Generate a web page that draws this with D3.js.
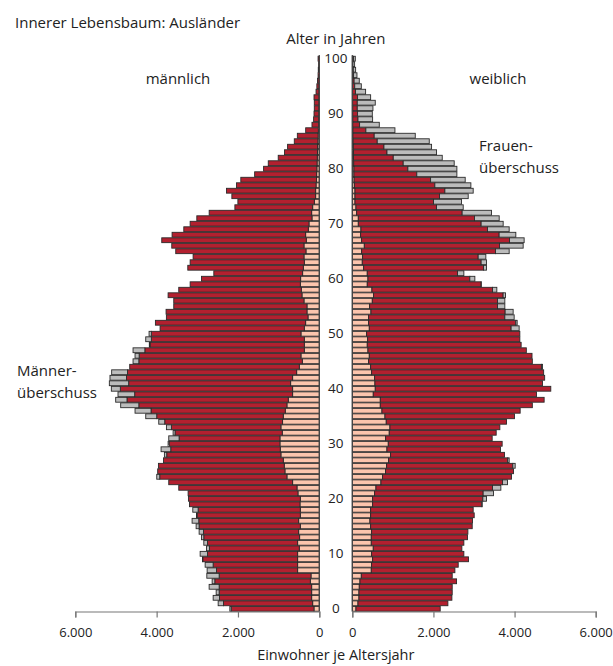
<!DOCTYPE html>
<html>
<head>
<meta charset="utf-8">
<script src="https://cdn.jsdelivr.net/npm/d3@7"></script>
<style>
  body { margin: 0; background: #fff; }
  svg text { font-family: "Open Sans", "Noto Sans", sans-serif; fill: #222; }
</style>
</head>
<body>
<svg id="svg" width="613" height="666"></svg>
<script>
// Altersjahre 0..100
const ages = d3.range(0, 101);

const maleTotal = [
  2200, 2487, 2610, 2536, 2709, 2635, 2766, 2758, 2807, 2873,
  2930, 2774, 2840, 2897, 2955, 3029, 3128, 3020, 3111, 3193,
  3218, 3226, 3456, 3702, 3997, 3974, 3956, 3830, 3809, 3891,
  3718, 3702, 3595, 3759, 3948, 4268, 4531, 4884, 5007, 4950,
  5114, 5163, 5147, 5106, 4662, 4580, 4531, 4580, 4180, 4268,
  4186, 3915, 4030, 3760, 3768, 3579, 3579, 3718, 3456, 3176,
  2897, 2594, 3234, 3176, 3103, 3530, 3628, 3874, 3620, 3332,
  3176, 3012, 2708, 2076, 2002, 2150, 2282, 2035, 1930, 1590,
  1370, 1255, 1010, 855, 780, 615, 540, 335, 180, 140,
  130, 123, 123, 130, 80, 60, 45, 30, 25, 15,
  30
];

const maleForeign = [
  131, 163, 188, 188, 188, 221, 204, 533, 533, 533,
  533, 492, 533, 484, 508, 467, 508, 467, 467, 475,
  467, 525, 549, 656, 796, 845, 862, 886, 944, 960,
  968, 968, 911, 944, 903, 886, 837, 796, 763, 656,
  656, 705, 656, 557, 492, 418, 451, 369, 369, 369,
  451, 369, 336, 278, 303, 303, 377, 426, 443, 467,
  459, 410, 393, 369, 377, 328, 377, 320, 336, 270,
  254, 180, 188, 163, 122, 90, 90, 80, 70, 65,
  60, 55, 50, 45, 40, 35, 30, 25, 15, 15,
  12, 12, 10, 10, 8, 8, 5, 5, 5, 5,
  5
];

const femaleTotal = [
  2167, 2356, 2455, 2463, 2463, 2570, 2463, 2529, 2611, 2865,
  2750, 2701, 2750, 2841, 2849, 2956, 2964, 3005, 2980, 3202,
  3309, 3481, 3662, 3826, 3924, 3974, 4015, 3867, 3752, 3653,
  3694, 3448, 3547, 3637, 3801, 3998, 4138, 4438, 4729, 4540,
  4893, 4688, 4742, 4717, 4690, 4438, 4430, 4290, 4162, 4130,
  4130, 4113, 4064, 3990, 3965, 3760, 3760, 3777, 3563, 3177,
  3021, 2750, 3309, 3309, 3292, 3867, 4212, 4236, 4031, 3867,
  3719, 3621, 3432, 2734, 2693, 2857, 2980, 2923, 2783, 2578,
  2578, 2512, 2217, 2077, 1954, 1897, 1552, 1051, 665, 501,
  493, 509, 566, 452, 328, 222, 172, 115, 82, 57,
  74
];

const femaleForeign = [
  90, 140, 164, 164, 172, 189, 222, 468, 476, 501,
  476, 517, 468, 468, 476, 452, 435, 452, 452, 501,
  501, 550, 583, 706, 747, 820, 846, 895, 944, 854,
  887, 821, 911, 928, 837, 805, 731, 690, 690, 517,
  566, 558, 550, 476, 452, 402, 419, 386, 369, 378,
  353, 419, 402, 402, 460, 427, 493, 525, 484, 369,
  386, 369, 279, 246, 254, 230, 296, 230, 205, 213,
  148, 148, 107, 90, 66, 66, 66, 50, 45, 40,
  40, 35, 30, 30, 25, 20, 15, 15, 12, 12,
  10, 10, 8, 8, 5, 5, 5, 5, 5, 5,
  5
];

const xTicks = [0, 2000, 4000, 6000];
const ageTicks = [0, 10, 20, 30, 40, 50, 60, 70, 80, 90, 100];

const colPink = "#fcc5ad";
const colRed = "#b3202f";
const colGray = "#bcbcbc";

let svg = d3.select("#svg");

let xL = d3.scaleLinear().domain([0, 6000]).range([319.3, 75.3]);
let xR = d3.scaleLinear().domain([0, 6000]).range([352.3, 595.7]);
let y = d3.scaleBand().domain(ages).range([611.5, 56]).paddingInner(0.12).paddingOuter(0.05);

const de = d3.formatLocale({ decimal: ",", thousands: ".", grouping: [3], currency: ["", " €"] });
const fmt = de.format(",d");

// Segmente je Altersjahr: Ausländer innen, Rest bis zum Minimum, Überschuss grau
function segments(own, foreign, other) {
  let segs = [];
  ages.forEach((a, i) => {
    let m = Math.min(own[i], other[i]);
    segs.push({ age: a, from: 0, to: foreign[i], fill: colPink });
    segs.push({ age: a, from: foreign[i], to: m, fill: colRed });
    if (own[i] > m) segs.push({ age: a, from: m, to: own[i], fill: colGray });
  });
  return segs;
}

function drawSide(scale, segs) {
  svg.append("g")
    .selectAll("rect")
    .data(segs)
    .join("rect")
    .attr("x", (d) => Math.min(scale(d.from), scale(d.to)))
    .attr("y", (d) => y(d.age))
    .attr("width", (d) => Math.abs(scale(d.to) - scale(d.from)))
    .attr("height", y.bandwidth())
    .attr("fill", (d) => d.fill)
    .attr("stroke", "#2a2a2a")
    .attr("stroke-width", 0.9);
}

drawSide(xL, segments(maleTotal, maleForeign, femaleTotal));
drawSide(xR, segments(femaleTotal, femaleForeign, maleTotal));

// senkrechte Linien
[319.3, 352.3].forEach((x) => {
  svg.append("line")
    .attr("x1", x).attr("x2", x)
    .attr("y1", 55).attr("y2", 611.5)
    .attr("stroke", "#444").attr("stroke-width", 1.2);
});

// Altersbeschriftung
svg.append("g")
  .selectAll("text")
  .data(ageTicks)
  .join("text")
  .attr("x", 335.8)
  .attr("y", (d) => y(d) + y.bandwidth() / 2 - 0.5)
  .attr("text-anchor", "middle")
  .attr("dominant-baseline", "central")
  .attr("font-size", 13.5)
  .text((d) => d);

// x-Achsen
function styleAxis(g) {
  g.select(".domain").attr("stroke", "#777").attr("stroke-width", 1.2);
  g.selectAll(".tick line").attr("stroke", "#777").attr("stroke-width", 1.2);
  g.selectAll(".tick text")
    .attr("font-size", 13)
    .attr("font-family", "'Open Sans', sans-serif")
    .attr("fill", "#222")
    .attr("dy", "1.25em");
}

svg.append("g")
  .attr("transform", "translate(0,611.5)")
  .call(d3.axisBottom(xL).tickValues(xTicks).tickFormat(fmt).tickSize(6).tickSizeOuter(6))
  .call(styleAxis);

svg.append("g")
  .attr("transform", "translate(0,611.5)")
  .call(d3.axisBottom(xR).tickValues(xTicks).tickFormat(fmt).tickSize(6).tickSizeOuter(6))
  .call(styleAxis);

// Texte
svg.append("text").attr("x", 15).attr("y", 28).attr("font-size", 15).text("Innerer Lebensbaum: Ausländer");
svg.append("text").attr("x", 335.8).attr("y", 44).attr("font-size", 15).attr("text-anchor", "middle").text("Alter in Jahren");
svg.append("text").attr("x", 178).attr("y", 84).attr("font-size", 15).attr("text-anchor", "middle").text("männlich");
svg.append("text").attr("x", 498).attr("y", 84).attr("font-size", 15).attr("text-anchor", "middle").text("weiblich");
svg.append("text").attr("x", 479).attr("y", 151).attr("font-size", 15).text("Frauen-");
svg.append("text").attr("x", 479).attr("y", 173).attr("font-size", 15).text("überschuss");
svg.append("text").attr("x", 17).attr("y", 376).attr("font-size", 15).text("Männer-");
svg.append("text").attr("x", 17).attr("y", 398).attr("font-size", 15).text("überschuss");
svg.append("text").attr("x", 335.8).attr("y", 660).attr("font-size", 14.5).attr("text-anchor", "middle").text("Einwohner je Altersjahr");
</script>
</body>
</html>
